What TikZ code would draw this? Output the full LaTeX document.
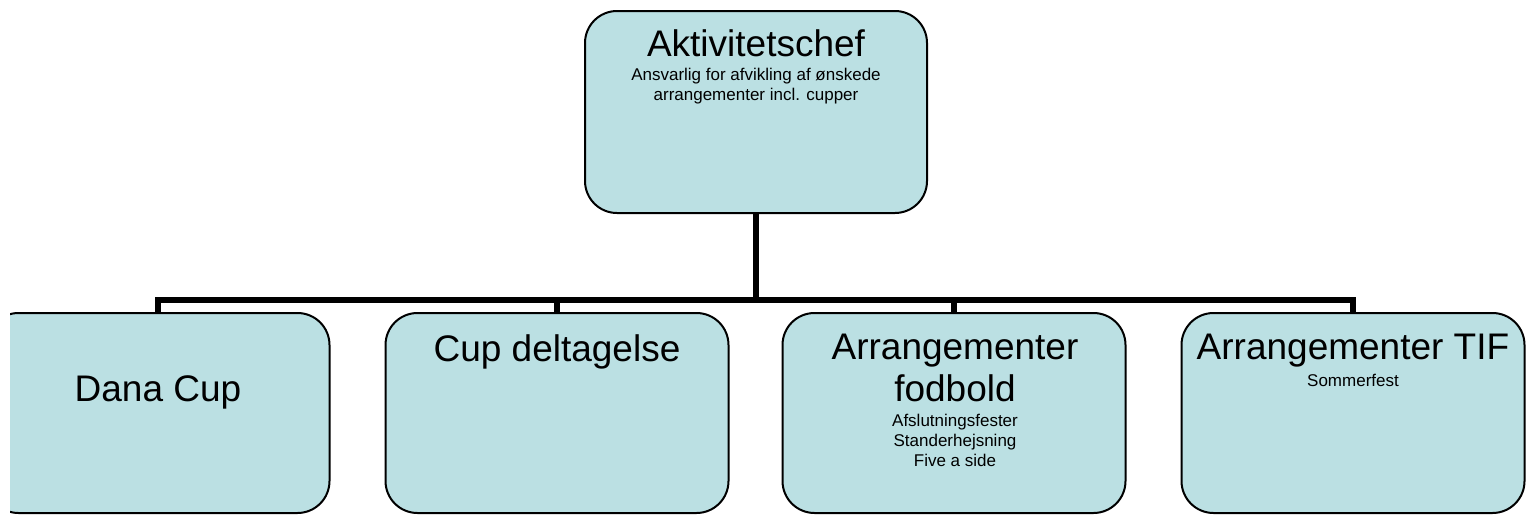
\documentclass[tikz,border=0pt]{standalone}
\usepackage{fontspec}
\setmainfont{Liberation Sans}
\definecolor{boxfill}{RGB}{187,224,227}
\begin{document}
\begin{tikzpicture}[x=0.5pt,y=-0.5pt]
\tikzstyle{unit}=[rectangle,draw=black,fill=boxfill,line width=1pt,rounded corners=16pt,minimum width=171.5pt,minimum height=100pt,inner sep=0pt]
\tikzstyle{headtext}=[font=\fontsize{18.5}{21}\selectfont,align=center,anchor=north,inner sep=0pt]
\tikzstyle{subtext}=[font=\fontsize{8.5}{10}\selectfont,align=center,anchor=north,inner sep=0pt]
\tikzstyle{link}=[line width=3pt]
\useasboundingbox (0,0) rectangle (1530,514);
\clip (10,0) rectangle (1530,514);
\node[unit,minimum width=171pt,minimum height=101pt] (chef) at (756,112) {};
\node[unit] (dana) at (158,413) {};
\node[unit] (cup) at (557,413) {};
\node[unit] (fod) at (954,413) {};
\node[unit] (tif) at (1353,413) {};
\node[headtext] (chefT) at (756,29) {Aktivitetschef};
\node[subtext] (chefS) at (756,68) {Ansvarlig for afvikling af ønskede\\arrangementer incl. cupper};
\node[headtext] (danaT) at (158,375) {Dana Cup};
\node[headtext] (cupT) at (557,334) {Cup deltagelse};
\node[headtext] (fodT) at (955,334) {Arrangementer\\fodbold};
\node[subtext] (fodS) at (955,414) {Afslutningsfester\\Standerhejsning\\Five a side};
\node[headtext] (tifT) at (1353,334) {Arrangementer TIF};
\node[subtext] (tifS) at (1353,374) {Sommerfest};
\coordinate (bar) at (756,300);
\draw[link] (chef.south) -- (bar);
\draw[link] (dana.north) |- (bar) -| (tif.north);
\draw[link] (cup.north) -- (cup.north |- bar);
\draw[link] (fod.north) -- (fod.north |- bar);
\end{tikzpicture}
\end{document}
